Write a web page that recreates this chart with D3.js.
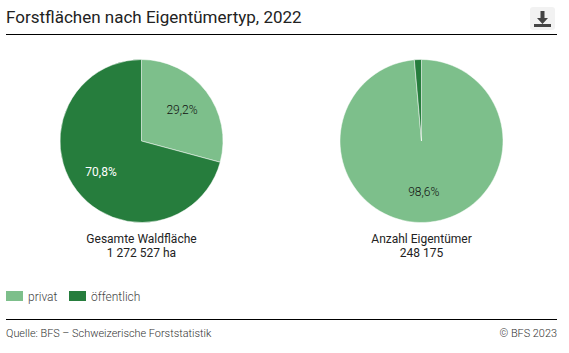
<!DOCTYPE html>
<html>
<head>
<meta charset="utf-8">
<script src="https://cdn.jsdelivr.net/npm/d3@7"></script>
<style>
  html, body { margin: 0; padding: 0; background: #fff; }
  text { font-family: Roboto, sans-serif; }
</style>
</head>
<body>
<div id="chart"></div>
<script>
const categories = ["privat", "öffentlich"];
const colors = ["#7dbf8b", "#267d3d"];
const areaValues = [29.2, 70.8];
const ownerValues = [98.6, 1.4];
const pieTitles = [
  ["Gesamte Waldfläche", "1 272 527 ha"],
  ["Anzahl Eigentümer", "248 175"],
];

const width = 569;
const height = 353;
const radius = 81.5;
const labelRadius = 51;

const svg = d3
  .select("#chart")
  .append("svg")
  .attr("width", width)
  .attr("height", height)
  .style("display", "block");

// Title and rules
svg.append("text")
  .attr("x", 6)
  .attr("y", 23)
  .attr("font-size", 17)
  .attr("fill", "#222")
  .text("Forstflächen nach Eigentümertyp, 2022");

svg.append("line").attr("x1", 6).attr("x2", 557).attr("y1", 34.5).attr("y2", 34.5).attr("stroke", "#000");
svg.append("line").attr("x1", 6).attr("x2", 557).attr("y1", 319.5).attr("y2", 319.5).attr("stroke", "#000");

// Download button
const icon = svg.append("g").attr("transform", "translate(530, 7)");
icon.append("rect").attr("width", 25).attr("height", 23).attr("rx", 3).attr("fill", "#f2f2f2");
icon.append("path")
  .attr("d", "M10.500 4h4v7h3.500l-5.500 6-5.500-6h3.500z M4 17h17v3h-17z")
  .attr("fill", "#444");

// Pies
const pie = d3.pie().sort(null);
const arc = d3.arc().innerRadius(0).outerRadius(radius);
const labelArc = d3.arc().innerRadius(labelRadius).outerRadius(labelRadius);
const xScale = d3.scalePoint().domain([0, 1]).range([141.5, 421.5]);

function drawPie(values, i) {
  const g = svg.append("g").attr("transform", `translate(${xScale(i)}, 141)`);
  const slices = pie(values);

  g.selectAll("path")
    .data(slices)
    .join("path")
    .attr("d", arc)
    .attr("fill", (d, j) => colors[j])
    .attr("stroke", "#fff")
    .attr("stroke-width", 0.5);

  g.selectAll("text")
    .data(slices.filter((d) => d.value > 5))
    .join("text")
    .attr("transform", (d) => `translate(${labelArc.centroid(d)})`)
    .attr("text-anchor", "middle")
    .attr("dy", "0.35em")
    .attr("font-size", 12)
    .attr("font-weight", (d) => (d.index === 1 ? 400 : 300))
    .attr("fill", (d) => (d.index === 1 ? "#fff" : "#111"))
    .text((d) => d.value.toFixed(1).replace(".", ",") + "%");

  svg.append("text")
    .attr("x", xScale(i))
    .attr("y", 243)
    .attr("text-anchor", "middle")
    .attr("font-size", 12)
    .attr("fill", "#222")
    .selectAll("tspan")
    .data(pieTitles[i])
    .join("tspan")
    .attr("x", xScale(i))
    .attr("dy", (d, j) => (j ? 14 : 0))
    .text((d) => d);
}

drawPie(areaValues, 0);
drawPie(ownerValues, 1);

// Legend
const legendX = [6, 69];
const legend = svg.selectAll(".legend")
  .data(categories)
  .join("g")
  .attr("class", "legend")
  .attr("transform", (d, i) => `translate(${legendX[i]}, 291)`);

legend.append("rect")
  .attr("width", 17)
  .attr("height", 10)
  .attr("fill", (d, i) => colors[i]);

legend.append("text")
  .attr("x", 22)
  .attr("y", 9.500)
  .attr("font-size", 12)
  .attr("font-weight", 300)
  .attr("fill", "#444")
  .text((d) => d);

// Footer
svg.append("text")
  .attr("x", 6)
  .attr("y", 337)
  .attr("font-size", 10.900)
  .attr("font-weight", 300)
  .attr("fill", "#333")
  .text("Quelle: BFS – Schweizerische Forststatistik");

svg.append("text")
  .attr("x", 557)
  .attr("y", 337)
  .attr("text-anchor", "end")
  .attr("font-size", 10.900)
  .attr("font-weight", 300)
  .attr("fill", "#333")
  .text("© BFS 2023");
</script>
</body>
</html>
